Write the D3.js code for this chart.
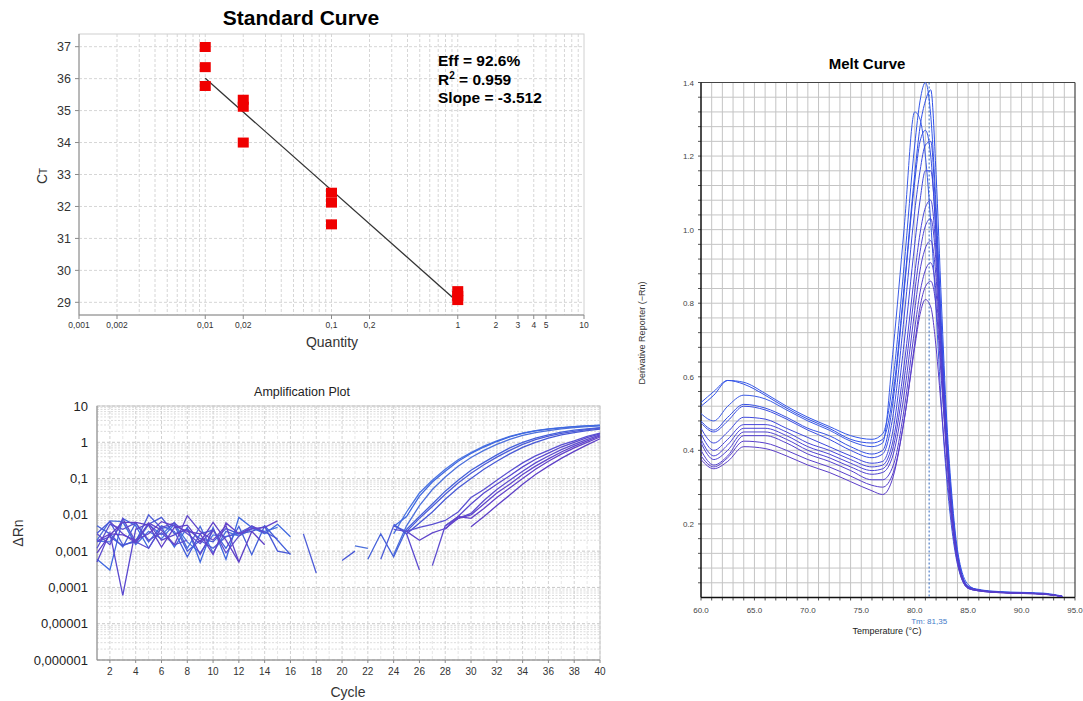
<!DOCTYPE html>
<html><head><meta charset="utf-8">
<script src="https://cdn.jsdelivr.net/npm/d3@7"></script>
<style>body{margin:0;background:#fff;} svg{display:block;font-family:"Liberation Sans",Arial,sans-serif;}</style>
</head><body><svg id="c" width="1083" height="701"></svg>
<script>
const _ = null;
// ---------- Standard curve data ----------
const scQuantity = [0.01,0.01,0.01,0.02,0.02,0.02,0.1,0.1,0.1,1,1,1];
const scCt = [36.99,36.36,35.77,35.34,35.12,34.0,32.43,32.12,31.44,29.35,29.2,29.07];
const fitQuantity = [0.01, 0.906];
const fitCt = [36.01, 29.16];
const scXTicks = [0.001,0.002,0.01,0.02,0.1,0.2,1,2,3,4,5,10];
const scXTickLabels = ["0,001","0,002","0,01","0,02","0,1","0,2","1","2","3","4","5","10"];
const scYTicks = [29,30,31,32,33,34,35,36,37];
const scStats = ["Eff = 92.6%", "R2 = 0.959", "Slope = -3.512"];

// ---------- Amplification data (cycles 1..40) ----------
const cycles = d3.range(1, 41);
const ampSeries = [
 [0.0019,0.0018,0.0065,0.0015,0.0035,0.0022,0.0055,0.0018,0.0009,0.0028,0.0025,0.0030,0.0042,0.0035,0.0045,_,_,_,_,_,_,_,_,0.0030,0.012,0.040,0.090,0.18,0.33,0.52,0.78,1.10,1.45,1.80,2.10,2.35,2.55,2.70,2.85,2.95],
 [0.0006,0.0003,0.0080,0.0050,0.0012,0.0045,0.0013,0.0045,0.0005,0.0045,0.0006,0.0085,0.0045,0.0030,0.0055,0.0025,_,_,_,_,_,_,_,0.0048,0.009,0.033,0.080,0.16,0.30,0.49,0.74,1.05,1.40,1.75,2.05,2.30,2.50,2.68,2.82,2.92],
 [0.0020,0.0068,0.0065,0.0016,0.0055,0.0028,0.0062,0.0012,0.0048,0.0009,0.0035,0.0026,0.0040,_,_,_,_,_,_,_,0.0014,0.0012,_,0.0008,0.005,0.018,0.050,0.11,0.22,0.38,0.60,0.88,1.20,1.55,1.85,2.10,2.35,2.55,2.70,2.85],
 [0.0050,0.0030,0.0013,0.0060,0.0018,0.0050,0.0035,0.0007,0.0030,0.0038,0.0012,0.0048,0.0008,0.0050,0.0020,0.0008,_,_,_,_,_,0.0006,0.0030,0.0007,0.004,0.009,0.020,0.045,0.09,0.17,0.28,0.45,0.70,1.00,1.30,1.60,1.90,2.15,2.35,2.55],
 [0.0031,0.0065,0.0015,0.0018,0.0100,0.0042,0.0052,0.0010,0.0020,0.0012,0.0025,0.0032,0.0048,0.0034,0.0022,_,0.0030,0.00025,_,_,_,_,0.0006,0.0050,0.0035,0.008,0.017,0.037,0.075,0.14,0.24,0.39,0.60,0.88,1.18,1.48,1.76,2.00,2.25,2.45],
 [0.0018,0.0025,0.0014,0.0020,0.0055,0.0085,0.0030,0.0040,0.0022,0.0018,0.0042,0.0030,0.0035,0.0048,0.0010,0.00085,_,_,_,0.00055,0.0010,_,_,0.0055,0.0030,0.006,0.012,0.027,0.055,0.10,0.18,0.30,0.48,0.72,1.00,1.30,1.60,1.85,2.10,2.30],
 [0.0012,0.0055,0.0040,0.0060,0.0020,0.0032,0.0015,0.0020,_,_,_,_,_,_,_,_,_,_,_,_,_,_,_,0.0040,0.0035,0.0045,0.0055,0.0070,0.012,0.030,0.050,0.090,0.16,0.27,0.42,0.60,0.85,1.10,1.45,1.80],
 [0.0005,0.0032,0.00006,0.0040,0.0058,0.0020,0.0028,0.0040,0.0008,0.0038,_,_,_,_,_,_,_,_,_,_,_,_,_,_,0.0030,0.0003,_,0.005,0.009,0.020,0.040,0.070,0.12,0.21,0.34,0.50,0.74,1.00,1.35,1.70],
 [0.0030,0.0015,0.0080,0.0018,0.0012,0.0045,0.0060,0.0030,0.0016,0.0040,0.0009,0.0026,0.0050,0.0032,_,_,_,_,_,_,_,_,_,_,_,_,0.0004,0.005,0.008,0.011,0.025,0.050,0.090,0.16,0.27,0.42,0.63,0.88,1.20,1.60],
 [_,0.0065,0.0030,0.0017,0.0060,0.0038,0.0015,0.0095,0.0035,0.0020,0.0050,0.0005,_,_,_,_,_,_,_,_,_,_,_,_,0.0035,0.0020,0.0032,0.0042,0.008,0.010,0.020,0.040,0.070,0.13,0.22,0.35,0.54,0.78,1.10,1.50],
 [0.0019,0.0030,0.0028,0.0020,0.0030,0.0065,0.0050,0.0035,0.0030,0.0008,0.0060,0.0030,0.0042,0.0045,0.0068,_,_,_,_,_,_,_,_,_,_,_,_,0.004,0.009,0.008,0.015,0.030,0.055,0.10,0.18,0.30,0.47,0.70,1.00,1.40],
 [0.0009,0.0028,0.0062,0.0062,0.0052,0.0013,0.0045,0.0052,0.0018,0.0062,0.0020,0.0005,0.0035,0.0015,_,_,_,_,_,_,_,_,_,_,_,_,_,_,_,0.0047,0.009,0.018,0.035,0.070,0.13,0.22,0.36,0.56,0.85,1.25]
];
const ampColors = ["#4a74e2","#3f68e0","#4c70dc","#4460da","#4d5cd8","#4858d6","#5a50d2","#5a48cf","#5e4ccf","#6046cb","#6443ca","#5e40c7"];
const ampYTicks = [10,1,0.1,0.01,0.001,0.0001,0.00001,0.000001];
const ampYTickLabels = ["10","1","0,1","0,01","0,001","0,0001","0,00001","0,000001"];
const ampXTicks = d3.range(2, 41, 2);

// ---------- Melt curve data ----------
const meltTemps = [60,61.2,62.5,64,66,68,70,72,74,76,77,78,79,80,80.5,81,81.5,82,82.5,83,83.5,84,85,86,88,90,92,93.8];
const meltSeries = [
 [0.530,0.560,0.590,0.585,0.555,0.520,0.490,0.465,0.440,0.430,0.445,0.600,0.900,1.230,1.350,1.400,1.310,1.060,0.740,0.450,0.250,0.120,0.030,0.022,0.016,0.014,0.012,0.004],
 [0.520,0.550,0.590,0.580,0.550,0.515,0.485,0.460,0.430,0.420,0.430,0.560,0.840,1.150,1.280,1.350,1.380,1.150,0.800,0.480,0.270,0.130,0.035,0.020,0.015,0.012,0.010,0.003],
 [0.500,0.480,0.520,0.550,0.540,0.510,0.480,0.455,0.425,0.410,0.420,0.680,1.000,1.320,1.300,1.200,1.020,0.780,0.520,0.320,0.180,0.090,0.025,0.018,0.014,0.012,0.010,0.003],
 [0.480,0.455,0.490,0.525,0.515,0.490,0.460,0.440,0.410,0.390,0.400,0.540,0.830,1.130,1.240,1.270,1.200,0.980,0.680,0.420,0.230,0.110,0.028,0.020,0.014,0.012,0.010,0.003],
 [0.475,0.450,0.480,0.520,0.510,0.485,0.455,0.430,0.400,0.380,0.390,0.500,0.760,1.050,1.160,1.230,1.240,1.030,0.720,0.440,0.240,0.115,0.030,0.020,0.014,0.012,0.010,0.003],
 [0.460,0.420,0.450,0.490,0.485,0.460,0.435,0.410,0.385,0.365,0.370,0.460,0.690,0.960,1.080,1.160,1.160,0.990,0.700,0.430,0.235,0.110,0.030,0.020,0.014,0.012,0.010,0.003],
 [0.445,0.400,0.430,0.470,0.470,0.450,0.420,0.400,0.375,0.355,0.360,0.430,0.630,0.880,0.990,1.060,1.080,0.940,0.670,0.420,0.230,0.110,0.028,0.020,0.014,0.012,0.010,0.003],
 [0.430,0.385,0.415,0.460,0.460,0.440,0.410,0.390,0.365,0.345,0.350,0.410,0.590,0.830,0.940,1.010,1.030,0.910,0.650,0.410,0.225,0.105,0.028,0.020,0.014,0.012,0.010,0.003],
 [0.420,0.375,0.400,0.450,0.450,0.430,0.400,0.380,0.355,0.335,0.340,0.390,0.550,0.780,0.890,0.950,0.970,0.870,0.630,0.400,0.220,0.105,0.027,0.020,0.014,0.012,0.010,0.003],
 [0.400,0.360,0.385,0.440,0.440,0.420,0.390,0.370,0.345,0.320,0.320,0.360,0.510,0.730,0.830,0.890,0.910,0.830,0.610,0.390,0.215,0.100,0.027,0.020,0.014,0.012,0.010,0.003],
 [0.385,0.355,0.380,0.425,0.420,0.400,0.375,0.355,0.330,0.305,0.300,0.340,0.480,0.690,0.790,0.845,0.860,0.790,0.590,0.380,0.210,0.100,0.025,0.018,0.013,0.011,0.009,0.003],
 [0.375,0.350,0.370,0.410,0.405,0.385,0.360,0.340,0.315,0.290,0.280,0.330,0.480,0.680,0.770,0.810,0.790,0.680,0.510,0.340,0.195,0.095,0.025,0.018,0.013,0.011,0.009,0.003]
];
const meltColors = ["#3357ea","#2f4fe8","#3a5ae6","#3550e4","#3a4ce2","#3e48de","#4846da","#4c44d6","#5042d2","#5440cf","#573ecc","#5a3dc9"];
const meltTm = 81.35;
const meltTmLabel = "Tm: 81,35";
const meltXTicks = [60,65,70,75,80,85,90,95];
const meltYTicks = [0.2,0.4,0.6,0.8,1.0,1.2,1.4];

const svg = d3.select("#c");
svg.append("rect").attr("width",1083).attr("height",701).attr("fill","#fff");

// ================= Standard Curve =================
{
  const L=79, R=584, T=34, B=315;
  const x = d3.scaleLog().domain([0.001,10]).range([L,R]);
  const y = d3.scaleLinear().domain([28.603,37.397]).range([B,T]);
  const g = svg.append("g");
  const minor = [];
  [0.001,0.01,0.1,1].forEach(d => { for (let k=1;k<=9;k++) minor.push(d*k); });
  g.selectAll(".vg").data(minor.filter(v=>v>0.001)).join("line")
    .attr("x1",d=>x(d)).attr("x2",d=>x(d)).attr("y1",T).attr("y2",B)
    .attr("stroke","#d6d6d6").attr("stroke-dasharray","3,2").attr("stroke-width",1);
  g.selectAll(".hg").data(scYTicks).join("line")
    .attr("x1",L).attr("x2",R).attr("y1",d=>y(d)).attr("y2",d=>y(d))
    .attr("stroke","#d6d6d6").attr("stroke-dasharray","3,2");
  g.append("rect").attr("x",L).attr("y",T).attr("width",R-L).attr("height",B-T)
    .attr("fill","none").attr("stroke","#d0d0d0");
  g.append("line").attr("x1",L).attr("x2",L).attr("y1",T).attr("y2",B).attr("stroke","#8a8a8a");
  g.append("line").attr("x1",L).attr("x2",R).attr("y1",B).attr("y2",B).attr("stroke","#8a8a8a");
  g.selectAll(".yt").data(scYTicks).join("line")
    .attr("x1",L-4).attr("x2",L).attr("y1",d=>y(d)).attr("y2",d=>y(d)).attr("stroke","#8a8a8a");
  g.selectAll(".ytl").data(scYTicks).join("text")
    .attr("x",L-8).attr("y",d=>y(d)+4.5).attr("text-anchor","end")
    .attr("font-size",12.5).attr("fill","#333").text(d=>d);
  g.selectAll(".xt").data(scXTicks).join("line")
    .attr("x1",d=>x(d)).attr("x2",d=>x(d)).attr("y1",B).attr("y2",B+4).attr("stroke","#8a8a8a");
  g.selectAll(".xtl").data(scXTicks).join("text")
    .attr("x",d=>x(d)).attr("y",B+13).attr("text-anchor","middle")
    .attr("font-size",8.5).attr("fill","#333").text((d,i)=>scXTickLabels[i]);
  // fit line
  g.append("path").datum(fitQuantity.map((q,i)=>[q,fitCt[i]]))
    .attr("d", d3.line().x(d=>x(d[0])).y(d=>y(d[1])))
    .attr("stroke","#333").attr("stroke-width",1.3).attr("fill","none");
  // points
  g.selectAll(".pt").data(scQuantity.map((q,i)=>[q,scCt[i]])).join("rect")
    .attr("x",d=>x(d[0])-5.5).attr("y",d=>y(d[1])-5).attr("width",11).attr("height",10)
    .attr("fill","#f00000");
  // title
  svg.append("text").attr("x",301).attr("y",25).attr("text-anchor","middle")
    .attr("font-size",21).attr("font-weight","bold").attr("fill","#000").text("Standard Curve");
  svg.append("text").attr("x",332).attr("y",347).attr("text-anchor","middle")
    .attr("font-size",14).attr("fill","#333").text("Quantity");
  const ct = svg.append("text").attr("transform","translate(47,176) rotate(-90)")
    .attr("text-anchor","middle").attr("font-size",14).attr("fill","#333");
  ct.append("tspan").text("C");
  ct.append("tspan").attr("font-size",10).text("T");
  // stats
  const st = svg.append("g").attr("font-size",15.5).attr("font-weight","bold").attr("fill","#000");
  st.append("text").attr("x",438).attr("y",66).text(scStats[0]);
  const r2 = st.append("text").attr("x",438).attr("y",85);
  r2.append("tspan").text("R");
  r2.append("tspan").attr("font-size",10).attr("dy",-6).text("2");
  r2.append("tspan").attr("dy",6).text(scStats[1].slice(2));
  st.append("text").attr("x",438).attr("y",103).text(scStats[2]);
}

// ================= Amplification Plot =================
{
  const L=97, R=600, T=406, B=660;
  const x = d3.scaleLinear().domain([1,40]).range([L,R]);
  const y = d3.scaleLog().domain([1e-6,10]).range([B,T]);
  const g = svg.append("g");
  const minor = [];
  [1e-6,1e-5,1e-4,1e-3,1e-2,1e-1,1].forEach(d => { for (let k=2;k<=9;k++) minor.push(d*k); });
  g.selectAll(".hm").data(minor).join("line")
    .attr("x1",L).attr("x2",R).attr("y1",d=>y(d)).attr("y2",d=>y(d))
    .attr("stroke","#dcdcdc").attr("stroke-dasharray","2,1.5");
  g.selectAll(".hM").data(ampYTicks).join("line")
    .attr("x1",L).attr("x2",R).attr("y1",d=>y(d)).attr("y2",d=>y(d))
    .attr("stroke","#c8c8c8").attr("stroke-dasharray","3,2");
  g.selectAll(".vg").data(cycles.slice(1)).join("line")
    .attr("x1",d=>x(d)).attr("x2",d=>x(d)).attr("y1",T).attr("y2",B)
    .attr("stroke",d=>d%2===0?"#d2d2d2":"#e6e6e6").attr("stroke-dasharray","3,2");
  g.append("rect").attr("x",L).attr("y",T).attr("width",R-L).attr("height",B-T)
    .attr("fill","none").attr("stroke","#c8c8c8");
  g.append("line").attr("x1",L).attr("x2",L).attr("y1",T).attr("y2",B).attr("stroke","#8a8a8a");
  g.append("line").attr("x1",L).attr("x2",R).attr("y1",B).attr("y2",B).attr("stroke","#8a8a8a");
  g.selectAll(".ytl").data(ampYTicks).join("text")
    .attr("x",L-9).attr("y",d=>y(d)+4.5).attr("text-anchor","end")
    .attr("font-size",13).attr("fill","#222").text((d,i)=>ampYTickLabels[i]);
  g.selectAll(".xt").data(ampXTicks).join("line")
    .attr("x1",d=>x(d)).attr("x2",d=>x(d)).attr("y1",B).attr("y2",B+3).attr("stroke","#8a8a8a");
  g.selectAll(".xtl").data(ampXTicks).join("text")
    .attr("x",d=>x(d)).attr("y",B+15).attr("text-anchor","middle")
    .attr("font-size",10).attr("fill","#333").text(d=>d);
  const line = d3.line().defined(d=>d[1]!=null).x(d=>x(d[0])).y(d=>y(d[1]));
  g.selectAll(".amp").data(ampSeries).join("path")
    .attr("d", s => line(s.map((v,i)=>[cycles[i],v])))
    .attr("fill","none").attr("stroke",(d,i)=>ampColors[i]).attr("stroke-width",1.3);
  svg.append("text").attr("x",302).attr("y",396).attr("text-anchor","middle")
    .attr("font-size",12.5).attr("fill","#222").text("Amplification Plot");
  svg.append("text").attr("x",348).attr("y",697).attr("text-anchor","middle")
    .attr("font-size",14).attr("fill","#333").text("Cycle");
  svg.append("text").attr("transform","translate(23,533) rotate(-90)").attr("text-anchor","middle")
    .attr("font-size",14).attr("fill","#333").text("ΔRn");
}

// ================= Melt Curve =================
{
  const L=701, R=1075, T=82.5, B=597.5;
  const x = d3.scaleLinear().domain([60,95]).range([L,R]);
  const y = d3.scaleLinear().domain([0,1.4]).range([B,T]);
  const g = svg.append("g");
  const vgrid = d3.range(61,95);
  const hgrid = d3.range(1,35).map(k=>k*0.04);
  g.selectAll(".vg").data(vgrid).join("line")
    .attr("x1",d=>x(d)).attr("x2",d=>x(d)).attr("y1",T).attr("y2",B)
    .attr("stroke","#c4c4c4").attr("stroke-width",1);
  g.selectAll(".hg").data(hgrid).join("line")
    .attr("x1",L).attr("x2",R).attr("y1",d=>y(d)).attr("y2",d=>y(d))
    .attr("stroke","#c4c4c4").attr("stroke-width",1);
  g.selectAll(".yt").data(hgrid.concat([1.4])).join("line")
    .attr("x1",L-3).attr("x2",L).attr("y1",d=>y(d)).attr("y2",d=>y(d)).attr("stroke","#555");
  g.selectAll(".xt").data(d3.range(60,96)).join("line")
    .attr("x1",d=>x(d)).attr("x2",d=>x(d)).attr("y1",B).attr("y2",B+3).attr("stroke","#555");
  g.append("line").attr("x1",L).attr("x2",R).attr("y1",T).attr("y2",T).attr("stroke","#444").attr("stroke-width",1.2);
  g.append("line").attr("x1",R).attr("x2",R).attr("y1",T).attr("y2",B).attr("stroke","#444").attr("stroke-width",1.2);
  g.append("line").attr("x1",L).attr("x2",L).attr("y1",T).attr("y2",B).attr("stroke","#111").attr("stroke-width",1.5);
  g.append("line").attr("x1",L).attr("x2",R).attr("y1",B).attr("y2",B).attr("stroke","#111").attr("stroke-width",1.5);
  g.selectAll(".ytl").data(meltYTicks).join("text")
    .attr("x",L-7).attr("y",d=>y(d)+3).attr("text-anchor","end")
    .attr("font-size",8).attr("fill","#444").text(d=>d.toFixed(1));
  g.selectAll(".xtl").data(meltXTicks).join("text")
    .attr("x",d=>x(d)).attr("y",B+15).attr("text-anchor","middle")
    .attr("font-size",8).attr("fill","#444").text(d=>d.toFixed(1));
  const line = d3.line().x((d,i)=>x(meltTemps[i])).y(d=>y(d)).curve(d3.curveMonotoneX);
  g.selectAll(".mc").data(meltSeries).join("path")
    .attr("d", line).attr("fill","none").attr("stroke",(d,i)=>meltColors[i]).attr("stroke-width",1);
  g.append("line").attr("x1",x(meltTm)).attr("x2",x(meltTm)).attr("y1",T).attr("y2",B)
    .attr("stroke","#2f66c0").attr("stroke-width",1).attr("stroke-dasharray","2,2");
  svg.append("text").attr("x",x(meltTm)).attr("y",624).attr("text-anchor","middle")
    .attr("font-size",8).attr("fill","#3f7bc8").text(meltTmLabel);
  svg.append("text").attr("x",867).attr("y",69).attr("text-anchor","middle")
    .attr("font-size",15).attr("font-weight","bold").attr("fill","#000").text("Melt Curve");
  svg.append("text").attr("x",887).attr("y",634).attr("text-anchor","middle")
    .attr("font-size",9).attr("fill","#222").text("Temperature (°C)");
  svg.append("text").attr("transform","translate(645,333) rotate(-90)").attr("text-anchor","middle")
    .attr("font-size",9).attr("fill","#333").text("Derivative Reporter (−Rn)");
}
</script></body></html>
